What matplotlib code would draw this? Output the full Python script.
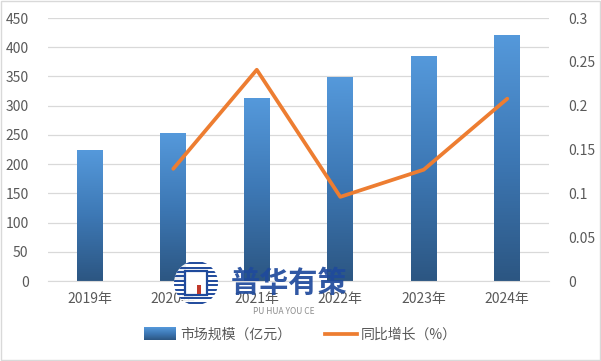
import numpy as np
import matplotlib
matplotlib.use('Agg')
import matplotlib.pyplot as plt
from matplotlib.legend_handler import HandlerBase
from matplotlib.image import BboxImage
from matplotlib.transforms import Bbox, TransformedBbox
from matplotlib.colors import LinearSegmentedColormap
from matplotlib.patches import Rectangle, Ellipse
from matplotlib.lines import Line2D

plt.rcParams['font.family'] = ['Noto Sans CJK SC', 'DejaVu Sans']

# Data
years = ['2019年', '2020年', '2021年', '2022年', '2023年', '2024年']
market_size = [224, 253, 313, 349, 385, 421]
growth = [None, 0.128, 0.241, 0.096, 0.127, 0.208]

bar_label = '市场规模（亿元）'
line_label = '同比增长（%）'

grey_text = '#595959'
grid_col = '#D9D9D9'
line_col = '#ED7D31'
grad = LinearSegmentedColormap.from_list('bargrad', ['#2C5682', '#3D78B5', '#5599DB'])
grad_img = np.linspace(0, 1, 256).reshape(-1, 1)

W, H = 601, 361
fig = plt.figure(figsize=(W / 100, H / 100), dpi=100)
ax = fig.add_axes([0.0799, 0.2216, 0.8336, 0.7284])
ax2 = ax.twinx()

x = np.arange(len(years))
bars = ax.bar(x, market_size, width=0.31, facecolor='none', edgecolor='none', zorder=2)
for b in bars:
    x0, y0 = b.get_x(), b.get_y()
    im = ax.imshow(grad_img, cmap=grad, origin='lower', aspect='auto',
                   extent=[x0, x0 + b.get_width(), y0, y0 + b.get_height()], zorder=2)
    im.set_clip_path(b)
ax.set_xlim(-0.5, len(years) - 0.5)
ax.set_ylim(0, 450)

gx = [i for i, g in enumerate(growth) if g is not None]
gy = [g for g in growth if g is not None]
ax2.plot(gx, gy, color=line_col, lw=2.7, solid_capstyle='round', zorder=3)
ax2.set_ylim(0, 0.3)

ax.set_yticks(np.arange(0, 451, 50))
ax2.set_yticks([0, 0.05, 0.1, 0.15, 0.2, 0.25, 0.3])
ax2.set_yticklabels(['0', '0.05', '0.1', '0.15', '0.2', '0.25', '0.3'])
ax.set_xticks(x)
ax.set_xticklabels(years)
ax.grid(axis='y', color=grid_col, lw=0.9, zorder=0)
ax.set_axisbelow(True)
for a in (ax, ax2):
    for s in a.spines.values():
        s.set_visible(False)
    a.tick_params(length=0, colors=grey_text, labelsize=10)
ax.spines['bottom'].set_visible(True)
ax.spines['bottom'].set_color(grid_col)
ax.tick_params(axis='x', pad=8)
ax.tick_params(axis='y', pad=14)
ax2.tick_params(axis='y', pad=14)


class GradHandler(HandlerBase):
    def create_artists(self, legend, orig_handle, xdescent, ydescent,
                       width, height, fontsize, trans):
        bb = TransformedBbox(Bbox.from_bounds(-xdescent, -ydescent - 1, width, height + 2), trans)
        img = BboxImage(bb, cmap=grad, origin='lower')
        img.set_data(grad_img)
        return [img]


bar_handle = Rectangle((0, 0), 1, 1)
line_handle = Line2D([], [], color=line_col, lw=2.7)
leg = fig.legend([bar_handle, line_handle], [bar_label, line_label],
                 handler_map={Rectangle: GradHandler()},
                 loc='center', bbox_to_anchor=(0.5, 1 - 335 / H), ncol=2,
                 frameon=False, fontsize=10, handlelength=2.3, handletextpad=0.3,
                 columnspacing=2.4)
for t in leg.get_texts():
    t.set_color(grey_text)

# watermark logo
logo_col = '#1F4A9C'
cx, cy, r = 196 / W, 1 - 283 / H, 22
ring = Ellipse((cx, cy), 2 * r / W, 2 * r / H, transform=fig.transFigure,
               facecolor='white', edgecolor='none', alpha=0.9, zorder=5)
fig.patches.append(ring)
for k in range(-9, 10, 2):
    yy = cy + k * 2.2 / H
    half = np.sqrt(max(r ** 2 - (k * 2.2) ** 2, 0)) / W
    stripe = Line2D([cx - half, cx + half], [yy, yy], transform=fig.transFigure,
                    color=logo_col, lw=1.4, zorder=6)
    stripe.set_clip_path(ring)
    fig.lines.append(stripe)
fig.patches.append(Rectangle((cx - 11 / W, cy - 12 / H), 22 / W, 24 / H, transform=fig.transFigure,
                             facecolor='white', edgecolor=logo_col, lw=1.6, zorder=7))
fig.patches.append(Rectangle((cx + 1 / W, cy - 11 / H), 4 / W, 9 / H, transform=fig.transFigure,
                             facecolor='#C0392B', edgecolor='none', zorder=8))
fig.text(231 / W, 1 - 283 / H, '普华有策', fontsize=21, fontweight='bold', color=logo_col,
         ha='left', va='center', alpha=0.92, zorder=6)
fig.text(284 / W, 1 - 311 / H, 'PU HUA YOU CE', fontsize=6, color='#8C8C8C',
         ha='center', va='center', zorder=6)

# outer frame
fig.patches.append(Rectangle((0.001, 0.002), 0.997, 0.995, transform=fig.transFigure,
                             fill=False, edgecolor='#D9D9D9', lw=1))

fig.savefig('out.png', dpi=100)
